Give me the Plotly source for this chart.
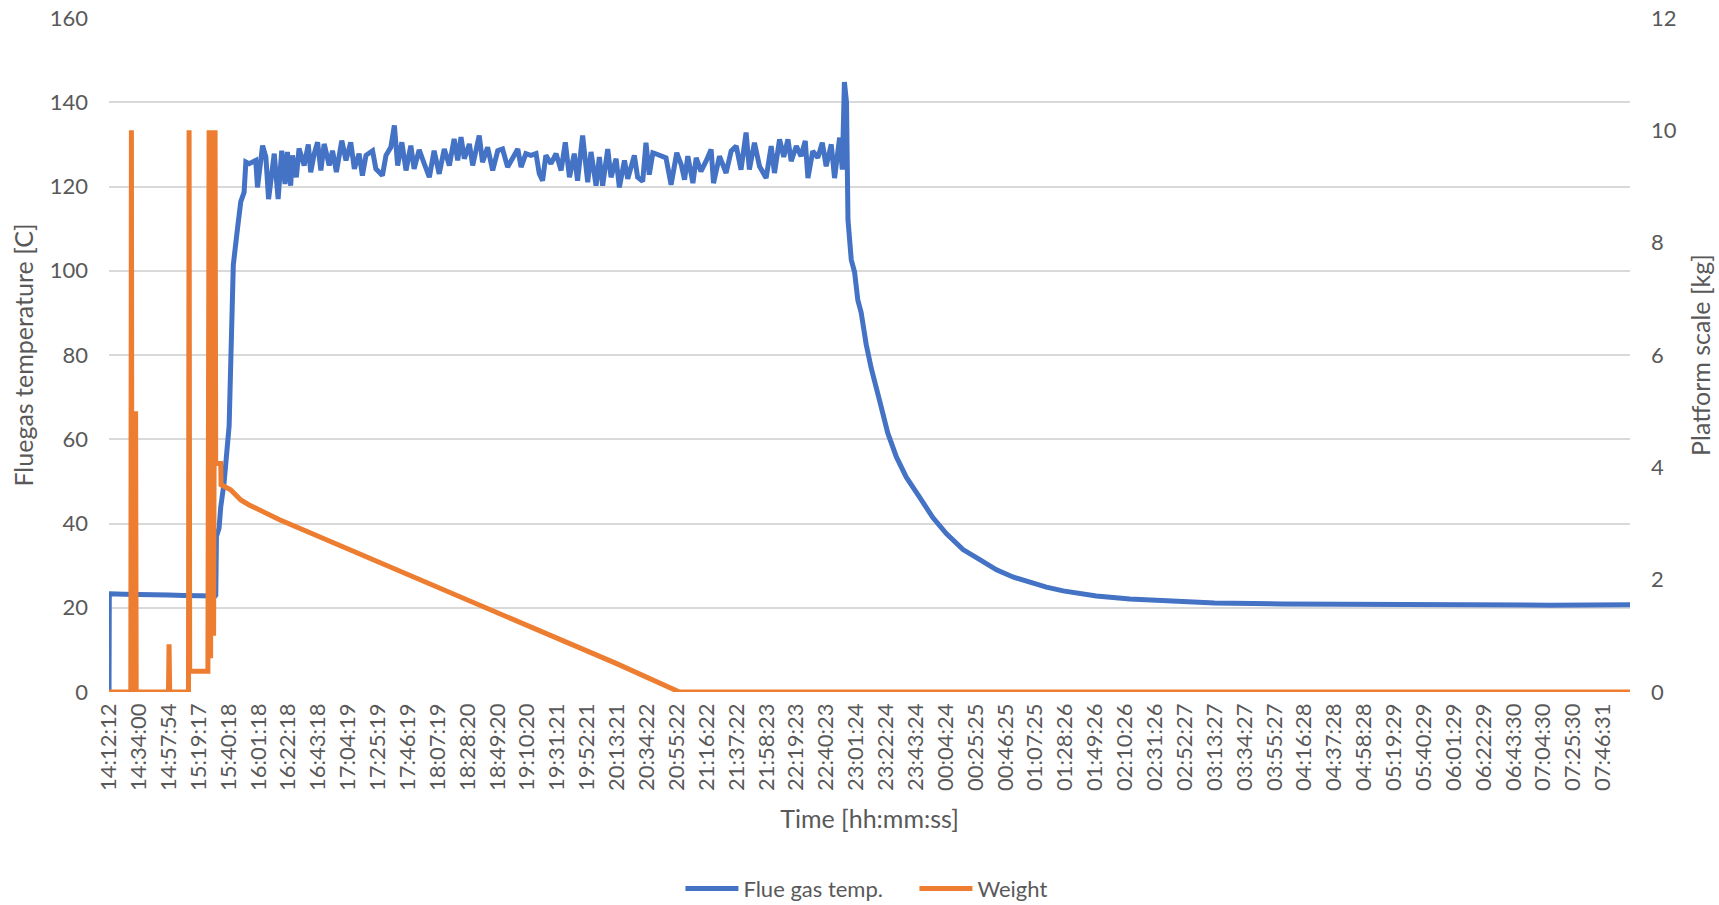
import plotly.graph_objects as go

# Category labels along the time axis (one label every label step)
tick_labels = [
    "14:12:12", "14:34:00", "14:57:54", "15:19:17", "15:40:18", "16:01:18",
    "16:22:18", "16:43:18", "17:04:19", "17:25:19", "17:46:19", "18:07:19",
    "18:28:20", "18:49:20", "19:10:20", "19:31:21", "19:52:21", "20:13:21",
    "20:34:22", "20:55:22", "21:16:22", "21:37:22", "21:58:23", "22:19:23",
    "22:40:23", "23:01:24", "23:22:24", "23:43:24", "00:04:24", "00:25:25",
    "00:46:25", "01:07:25", "01:28:26", "01:49:26", "02:10:26", "02:31:26",
    "02:52:27", "03:13:27", "03:34:27", "03:55:27", "04:16:28", "04:37:28",
    "04:58:28", "05:19:29", "05:40:29", "06:01:29", "06:22:29", "06:43:30",
    "07:04:30", "07:25:30", "07:46:31",
]

# Flue gas temperature [C]; positions are given in label steps from 14:12:12
temp_pos = [
    0.00, 0.01, 0.50, 1.00, 1.50, 2.00, 2.50, 3.00, 3.55,
    3.573, 3.595, 3.684, 3.74, 3.85, 3.96, 4.02, 4.07, 4.16, 4.30, 4.41, 4.52,
    4.58, 4.69, 4.91, 4.97, 5.14, 5.25, 5.34, 5.53, 5.66, 5.78, 5.89, 5.97,
    6.08, 6.14, 6.27, 6.36, 6.53, 6.67, 6.75, 6.87, 6.98, 7.09, 7.20, 7.37,
    7.48, 7.61, 7.79, 7.93, 8.09, 8.21, 8.37, 8.48, 8.60, 8.82, 8.93, 9.15,
    9.27, 9.43, 9.55, 9.66, 9.80, 9.94, 10.10, 10.21, 10.38,
    10.55, 10.72, 10.88, 11.05, 11.22, 11.39, 11.55, 11.67, 11.78, 11.89,
    12.06, 12.17, 12.39, 12.50, 12.67, 12.84, 13.01, 13.17, 13.34, 13.51,
    13.68, 13.79, 13.95, 14.12, 14.29, 14.40, 14.51, 14.62, 14.79, 14.96,
    15.13, 15.27, 15.41, 15.57, 15.68, 15.85, 16.02, 16.13, 16.30, 16.41,
    16.52, 16.69, 16.80, 16.97, 17.08, 17.25, 17.36, 17.58, 17.69,
    17.86, 17.97, 18.08, 18.20, 18.36, 18.53, 18.64, 18.81, 19.00, 19.15,
    19.26, 19.37, 19.54, 19.65, 19.81, 19.98, 20.15, 20.23, 20.43, 20.65,
    20.82, 20.99, 21.15, 21.32, 21.43, 21.60, 21.77, 21.99, 22.16, 22.27,
    22.44, 22.58, 22.72, 22.83, 23.00, 23.16, 23.30, 23.39, 23.55, 23.72,
    23.87, 24.00, 24.17, 24.28, 24.45, 24.54, 24.61, 24.68, 24.73,
    24.84, 24.95, 25.06, 25.17, 25.34, 25.51, 25.79, 26.06, 26.35, 26.68,
    27.13, 27.57, 28.02, 28.58, 29.14, 29.70, 30.25, 30.81, 31.37, 31.93,
    33.04, 34.16, 35.27, 37.00, 39.29, 41.53, 43.76, 45.99, 48.23, 50.90,
]
temp_val = [
    0.0, 23.3, 23.2, 23.2, 23.1, 23.0, 22.9, 22.8, 22.8,
    23.0, 36.9, 38.9, 44.0, 49.6, 57.5, 63.2, 76.8, 101.4, 110.0, 116.4, 118.6,
    125.8, 125.4, 126.2, 119.8, 129.7, 127.0, 117.0, 127.8, 117.0, 128.5, 120.6, 128.2,
    120.2, 127.4, 122.2, 129.0, 125.0, 130.0, 123.4, 127.8, 130.5, 123.8, 130.1, 125.0,
    128.5, 123.4, 130.9, 126.2, 130.5, 124.2, 127.8, 122.6, 127.4, 128.5, 124.2, 122.6,
    127.4, 129.3, 134.5, 125.0, 130.5, 123.8, 129.7, 124.2, 128.7,
    125.4, 122.2, 128.5, 123.0, 128.9, 125.0, 131.3, 126.2, 131.7, 126.6,
    130.1, 125.0, 132.1, 125.8, 129.3, 123.8, 128.5, 128.9, 124.6, 127.0,
    128.9, 124.6, 127.8, 127.4, 127.8, 123.0, 121.4, 127.4, 125.4, 127.8,
    123.8, 130.5, 122.2, 127.8, 121.4, 132.1, 121.0, 128.2, 120.2, 127.0,
    120.2, 128.9, 122.2, 126.6, 119.8, 126.2, 121.8, 127.4, 122.2,
    121.2, 130.4, 122.8, 128.0, 127.6, 127.2, 126.8, 120.4, 128.0, 125.2,
    121.6, 127.2, 120.8, 126.8, 123.6, 126.0, 128.8, 120.8, 127.2, 123.2,
    128.4, 129.6, 124.0, 132.8, 124.0, 130.4, 124.8, 122.0, 129.6, 123.2,
    131.2, 127.0, 131.2, 126.0, 129.6, 127.2, 130.8, 122.0, 128.4, 126.8,
    130.4, 124.8, 130.0, 122.0, 131.6, 124.0, 144.8, 140.0, 112.1,
    102.6, 99.7, 93.0, 90.1, 82.5, 76.8, 69.1, 61.5, 55.8, 51.0,
    46.2, 41.4, 37.6, 33.8, 31.4, 29.0, 27.3, 26.0, 24.9, 24.0,
    22.8, 22.1, 21.6, 21.1, 20.9, 20.8, 20.6, 20.5, 20.6, 20.7,
]

# Platform scale reading [kg]
weight_pos = [
    0.00, 0.73, 0.75, 0.77, 0.87, 0.89, 0.91, 1.99, 2.01, 2.03,
    2.66, 2.68, 2.70, 3.31, 3.35, 3.40, 3.45, 3.50, 3.55, 3.57,
    3.74, 3.75, 4.07, 4.41, 4.69, 5.69, 8.60, 11.39, 14.17, 16.97,
    19.09, 50.90,
]
weight_val = [
    0.0, 0.0, 10.0, 0.0, 0.0, 5.0, 0.0, 0.0, 0.85, 0.0,
    0.0, 10.0, 0.37, 0.37, 10.0, 0.6, 10.0, 1.0, 10.0, 4.07,
    4.07, 3.69, 3.60, 3.42, 3.33, 3.07, 2.41, 1.76, 1.13, 0.51,
    0.0, 0.0,
]

FONT = "Lato"
TXT = "#595959"
GRID = "#D9D9D9"
TICK_SIZE = 22
TITLE_SIZE = 25

fig = go.Figure()
fig.add_trace(go.Scatter(
    x=temp_pos, y=temp_val, name="Flue gas temp.", mode="lines",
    line=dict(color="#4472C4", width=5),
))
fig.add_trace(go.Scatter(
    x=weight_pos, y=weight_val, name="Weight", mode="lines", yaxis="y2",
    line=dict(color="#ED7D31", width=5),
))

fig.update_layout(
    width=1719, height=905,
    margin=dict(l=109, r=89, t=18, b=213),
    paper_bgcolor="white", plot_bgcolor="white",
    font=dict(family=FONT, size=TICK_SIZE, color=TXT),
    showlegend=True,
    legend=dict(
        orientation="h", x=0.3757, xanchor="left",
        yref="container", y=0.018, yanchor="middle",
        font=dict(family=FONT, size=TICK_SIZE, color=TXT),
        itemwidth=53, entrywidth=166, traceorder="normal",
    ),
    xaxis=dict(
        range=[0, 50.9], tickmode="array", automargin=False,
        tickvals=list(range(len(tick_labels))), ticktext=tick_labels,
        tickangle=-90, showgrid=False, zeroline=False, showline=False,
        ticks="", ticklabelstandoff=6,
        title=dict(text="Time [hh:mm:ss]", standoff=20,
                   font=dict(family=FONT, size=TITLE_SIZE, color=TXT)),
    ),
    yaxis=dict(
        range=[0, 160], dtick=20, showgrid=True, gridcolor=GRID, gridwidth=1.5,
        zeroline=False, showline=False, ticks="", ticklabelstandoff=20,
        automargin=False,
        title=dict(text="Fluegas temperature [C]", standoff=8,
                   font=dict(family=FONT, size=TITLE_SIZE, color=TXT)),
    ),
    yaxis2=dict(
        range=[0, 12], dtick=2, overlaying="y", side="right", showgrid=False,
        zeroline=False, showline=False, ticks="", ticklabelstandoff=20,
        automargin=False,
        title=dict(text="Platform scale [kg]", standoff=16,
                   font=dict(family=FONT, size=TITLE_SIZE, color=TXT)),
    ),
)

fig.write_html("out.html")
